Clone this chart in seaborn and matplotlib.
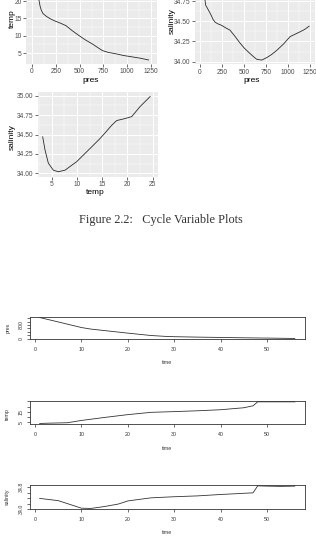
import numpy as np
import pandas as pd
import matplotlib
matplotlib.use("Agg")
import matplotlib.pyplot as plt
import seaborn as sns

# ---------------- data ----------------
# Panel A: temp vs pres (profile)
pres_a = [50, 60, 73, 85, 97, 115, 150, 184, 236, 300, 357, 420, 496, 560,
          635, 690, 740, 800, 878, 960, 1051, 1140, 1225]
temp_a = [24.5, 22.5, 20.3, 18.5, 17.4, 16.4, 15.6, 15.0, 14.3, 13.6, 12.9,
          11.5, 10.0, 8.8, 7.6, 6.6, 5.7, 5.2, 4.8, 4.3, 3.9, 3.5, 3.0]

# Panel B: salinity vs pres (profile)
pres_b = [50, 57, 64, 80, 95, 115, 133, 150, 171, 200, 246, 290, 341, 400,
          455, 510, 569, 610, 644, 701, 758, 815, 872, 950, 1023, 1080, 1137,
          1190, 1240]
sal_b = [35.0, 34.76, 34.70, 34.67, 34.64, 34.60, 34.56, 34.52, 34.49, 34.47,
         34.45, 34.42, 34.39, 34.31, 34.23, 34.16, 34.10, 34.06, 34.03, 34.02,
         34.05, 34.09, 34.14, 34.22, 34.31, 34.34, 34.37, 34.40, 34.44]

# Panel C: salinity vs temp (profile)
temp_c = [3.22, 3.68, 4.34, 5.33, 6.32, 7.64, 9.95, 12.6, 14.6, 15.56, 16.9,
          17.87, 19.2, 20.84, 22.5, 24.5]
sal_c = [34.47, 34.30, 34.13, 34.04, 34.02, 34.04, 34.15, 34.32, 34.45, 34.52,
         34.62, 34.68, 34.70, 34.73, 34.86, 34.99]

# Time series
time_p = [1, 5, 10, 12, 15, 20, 25, 28, 30, 35, 40, 45, 47, 50, 56]
pres_t = [1240, 980, 650, 560, 470, 320, 180, 130, 110, 85, 65, 45, 38, 28, 5]

time_t = [1, 3, 7, 10, 15, 20, 25, 30, 35, 40, 45, 47, 48, 50, 56]
temp_t = [3.7, 4.0, 4.4, 6.6, 9.5, 12.2, 14.4, 15.1, 15.9, 16.9, 18.8, 20.7,
          24.5, 24.5, 24.5]

time_s = [1, 5, 10, 12, 15, 18, 20, 25, 30, 35, 40, 47, 48, 50, 53, 56]
sal_t = [34.39, 34.31, 34.04, 34.03, 34.10, 34.19, 34.30, 34.41, 34.45, 34.48,
         34.53, 34.59, 34.84, 34.83, 34.82, 34.83]

caption = "Figure 2.2:   Cycle Variable Plots"

# ---------------- figure ----------------
W, H = 316, 544
fig = plt.figure(figsize=(W / 100, H / 100), dpi=100)
plt.rcParams['font.family'] = ['Liberation Sans', 'DejaVu Sans']


def add_ax(x0, y0, x1, y1):
    return fig.add_axes([x0 / W, 1 - y1 / H, (x1 - x0) / W, (y1 - y0) / H])


def set_label_px(ax, which, px, py, x0, y0, x1, y1):
    ax_x = (px - x0) / (x1 - x0)
    ax_y = (y1 - py) / (y1 - y0)
    if which == 'x':
        ax.xaxis.set_label_coords(ax_x, ax_y)
        ax.xaxis.label.set_va('center')
    else:
        ax.yaxis.set_label_coords(ax_x, ax_y)
        ax.yaxis.label.set_ha('center')
        ax.yaxis.label.set_va('center')


def gg_style(ax, xt, yt, xm, ym):
    ax.set_facecolor('#EBEBEB')
    for s in ax.spines.values():
        s.set_visible(False)
    ax.set_xticks(xt)
    ax.set_yticks(yt)
    ax.set_xticks(xm, minor=True)
    ax.set_yticks(ym, minor=True)
    ax.grid(which='major', color='white', lw=0.7)
    ax.grid(which='minor', color='white', lw=0.35)
    ax.set_axisbelow(True)
    ax.tick_params(which='major', length=2, width=0.5, color='#333333',
                   labelsize=4.8, labelcolor='#4D4D4D', pad=1.2)
    ax.tick_params(which='minor', length=0)


gg_lab = dict(fontsize=6, color='black')

# Panel A
bx = (26, -18.4, 157, 63.8)
axA = add_ax(*bx)
sns.lineplot(x=pres_a, y=temp_a, ax=axA, color='#2a2a2a', lw=0.6,
             estimator=None, sort=True)
axA.set_xlim(-63, 1313)
axA.set_ylim(1.9, 25.6)
gg_style(axA, [0, 250, 500, 750, 1000, 1250], [5, 10, 15, 20],
         [125, 375, 625, 875, 1125], [7.5, 12.5, 17.5, 22.5])
axA.set_xlabel('pres', **gg_lab)
axA.set_ylabel('temp', **gg_lab)
set_label_px(axA, 'x', 91, 80, *bx)
set_label_px(axA, 'y', 12, 19, *bx)

# Panel B
bx = (195, -23.1, 314.6, 64.1)
axB = add_ax(*bx)
sns.lineplot(x=pres_b, y=sal_b, ax=axB, color='#2a2a2a', lw=0.6,
             estimator=None, sort=True)
axB.set_xlim(-57, 1302)
axB.set_ylim(33.97, 35.05)
gg_style(axB, [0, 250, 500, 750, 1000, 1250], [34.0, 34.25, 34.5, 34.75],
         [125, 375, 625, 875, 1125], [34.125, 34.375, 34.625, 34.875])
axB.set_yticklabels(['34.00', '34.25', '34.50', '34.75'])
axB.set_xlabel('pres', **gg_lab)
axB.set_ylabel('salinity', **gg_lab)
set_label_px(axB, 'x', 252, 80, *bx)
set_label_px(axB, 'y', 172, 21, *bx)

# Panel C
bx = (38, 92, 158, 177)
axC = add_ax(*bx)
sns.lineplot(x=temp_c, y=sal_c, ax=axC, color='#2a2a2a', lw=0.6,
             estimator=None, sort=True)
axC.set_xlim(2.29, 26.05)
axC.set_ylim(33.952, 35.048)
gg_style(axC, [5, 10, 15, 20, 25], [34.0, 34.25, 34.5, 34.75, 35.0],
         [2.5, 7.5, 12.5, 17.5, 22.5], [34.125, 34.375, 34.625, 34.875])
axC.set_yticklabels(['34.00', '34.25', '34.50', '34.75', '35.00'])
axC.set_xlabel('temp', **gg_lab)
axC.set_ylabel('salinity', **gg_lab)
set_label_px(axC, 'x', 95, 192, *bx)
set_label_px(axC, 'y', 12, 137, *bx)

# Caption
fig.text(161 / W, 1 - 220 / H, caption, ha='center', va='center',
         fontsize=8.8, color='#333333', family=['Liberation Serif', 'DejaVu Serif'])


# Base-R style time series
def r_style(ax, yt, ylabels):
    for s in ax.spines.values():
        s.set_color('#333333')
        s.set_linewidth(0.6)
    ax.set_facecolor('white')
    ax.set_xticks([0, 10, 20, 30, 40, 50])
    ax.set_yticks(yt)
    ax.set_yticklabels(ylabels)
    ax.tick_params(length=2, width=0.5, color='#333333', labelsize=3.8,
                   labelcolor='#333333', pad=3.5)
    ax.tick_params(axis='y', labelrotation=90, pad=2)
    for t in ax.get_yticklabels():
        t.set_va('center')
    ax.grid(False)


r_lab = dict(fontsize=3.8, color='#333333')

bx = (29.5, 316.7, 305, 339.3)
ax1 = add_ax(*bx)
sns.lineplot(x=time_p, y=pres_t, ax=ax1, color='#333333', lw=0.6,
             estimator=None, sort=False)
ax1.set_xlim(-1.2, 58.2)
ax1.set_ylim(-44, 1289)
r_style(ax1, [0, 200, 400, 600, 800, 1000, 1200], ['0', '', '', '', '800', '', ''])
ax1.set_xlabel('time', **r_lab)
ax1.set_ylabel('pres', **r_lab)
set_label_px(ax1, 'x', 167, 363, *bx)
set_label_px(ax1, 'y', 8, 328, *bx)

bx = (29.5, 401, 305, 424.3)
ax2 = add_ax(*bx)
sns.lineplot(x=time_t, y=temp_t, ax=ax2, color='#333333', lw=0.6,
             estimator=None, sort=False)
ax2.set_xlim(-1.2, 58.2)
ax2.set_ylim(2.9, 25.3)
r_style(ax2, [5, 10, 15, 20, 25], ['5', '', '15', '', ''])
ax2.set_xlabel('time', **r_lab)
ax2.set_ylabel('temp', **r_lab)
set_label_px(ax2, 'x', 167, 448, *bx)
set_label_px(ax2, 'y', 7, 414, *bx)

bx = (29.5, 485, 305, 509.3)
ax3 = add_ax(*bx)
sns.lineplot(x=time_s, y=sal_t, ax=ax3, color='#333333', lw=0.6,
             estimator=None, sort=False)
ax3.set_xlim(-1.2, 58.2)
ax3.set_ylim(34.0, 34.87)
r_style(ax3, [34.0, 34.2, 34.4, 34.6, 34.8], ['34.0', '', '', '', '34.8'])
ax3.set_xlabel('time', **r_lab)
ax3.set_ylabel('salinity', **r_lab)
set_label_px(ax3, 'x', 167, 532, *bx)
set_label_px(ax3, 'y', 7, 497, *bx)

fig.savefig('out.png', dpi=100)
